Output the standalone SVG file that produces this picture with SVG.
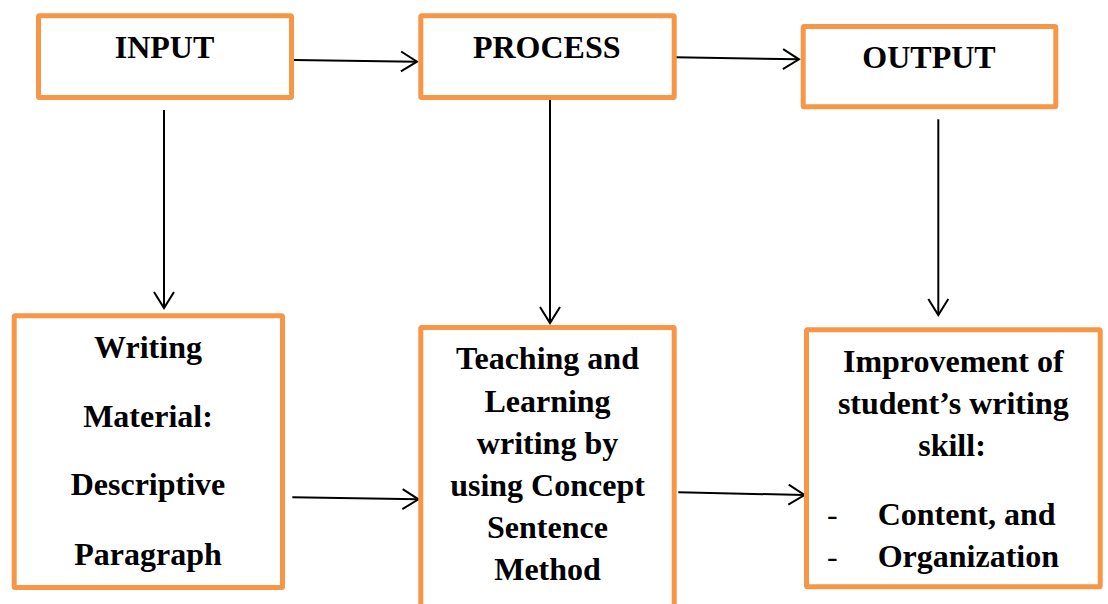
<svg xmlns="http://www.w3.org/2000/svg" width="1108" height="604" viewBox="0 0 1108 604">
<style>
.box{fill:#ffffff;stroke:#F79646;stroke-width:5;stroke-linejoin:round}
.t{font-family:"Liberation Serif","Times New Roman",serif;font-weight:bold;font-size:32px;fill:#000000;text-anchor:middle}
.d{font-family:"Liberation Serif","Times New Roman",serif;font-weight:normal;font-size:32px;fill:#000000}
.c{fill:none;stroke:#000000;stroke-width:2}
</style>
<defs>
<marker id="ah" markerUnits="userSpaceOnUse" viewBox="-19 -12 21 24" markerWidth="21" markerHeight="24" refX="0" refY="0" orient="auto" overflow="visible">
<path d="M-16,-10 L0,0 L-16,10" fill="none" stroke="#000000" stroke-width="2" stroke-linejoin="miter"/>
</marker>
</defs>
<rect width="1108" height="604" fill="#ffffff"/>
<g id="connectors">
<path class="c" d="M294,60 L417,61.7" marker-end="url(#ah)"/>
<path class="c" d="M675,57.3 L799,59.3" marker-end="url(#ah)"/>
<path class="c" d="M164,110 L164,308" marker-end="url(#ah)"/>
<path class="c" d="M550,98 L550,323" marker-end="url(#ah)"/>
<path class="c" d="M938.3,119.3 L938.3,315" marker-end="url(#ah)"/>
<path class="c" d="M292.3,497.3 L418.5,499.3" marker-end="url(#ah)"/>
<path class="c" d="M678.3,492.3 L804.5,495" marker-end="url(#ah)"/>
</g>
<g id="input">
<rect class="box" x="38.5" y="15.8" width="253" height="81.7" rx="1"/>
<text class="t" x="164.5" y="58.3">INPUT</text>
</g>
<g id="process">
<rect class="box" x="420.8" y="15.8" width="253.4" height="81.7" rx="1"/>
<text class="t" x="546.7" y="58.3">PROCESS</text>
</g>
<g id="output">
<rect class="box" x="803.2" y="26.5" width="252.6" height="80.3" rx="1"/>
<text class="t" x="929" y="68.3">OUTPUT</text>
</g>
<g id="writing-material">
<rect class="box" x="14.2" y="315.8" width="268.3" height="271.7" rx="1"/>
<text class="t" x="148" y="358.3">Writing</text>
<text class="t" x="148" y="426.7">Material:</text>
<text class="t" x="148" y="495">Descriptive</text>
<text class="t" x="148" y="565">Paragraph</text>
</g>
<g id="teaching-learning">
<rect class="box" x="420.8" y="327.5" width="253.4" height="284" rx="1"/>
<text class="t" x="547.5" y="369">Teaching and</text>
<text class="t" x="547.5" y="411.5">Learning</text>
<text class="t" x="547.5" y="453.5">writing by</text>
<text class="t" x="547.5" y="495.7">using Concept</text>
<text class="t" x="547.5" y="538">Sentence</text>
<text class="t" x="547.5" y="580">Method</text>
</g>
<g id="improvement">
<rect class="box" x="806.5" y="329.8" width="293.7" height="257" rx="1"/>
<text class="t" x="953.3" y="371.7">Improvement of</text>
<text class="t" x="953.3" y="413.5">student’s writing</text>
<text class="t" x="952" y="455.7">skill:</text>
<text class="d" x="827" y="525">-</text>
<text class="t" x="877.7" y="525" style="text-anchor:start">Content, and</text>
<text class="d" x="827" y="567.3">-</text>
<text class="t" x="877.7" y="567.3" style="text-anchor:start">Organization</text>
</g>
</svg>
